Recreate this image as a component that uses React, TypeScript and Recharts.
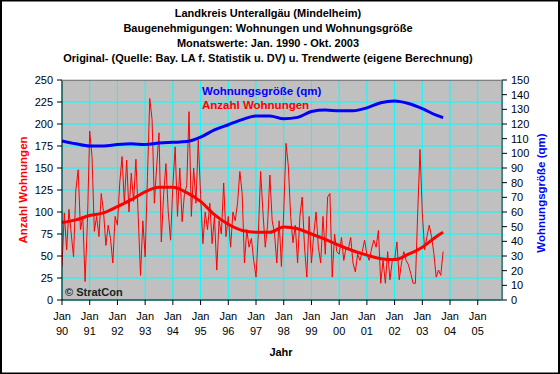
import React from 'react';
import {
  ComposedChart,
  Line,
  XAxis,
  YAxis,
  CartesianGrid,
} from 'recharts';

// Baugenehmigungen: Anzahl Wohnungen per month, Jan 1990 - Okt 2003
const anzahl = [
  38, 99, 57, 103, 75, 49, 125, 148, 80, 95, 21, 88,
  192, 163, 78, 95, 72, 121, 100, 62, 85, 70, 42, 95,
  85, 133, 163, 110, 159, 100, 144, 112, 160, 95, 28, 90,
  49, 140, 229, 205, 110, 152, 190, 66, 120, 155, 100, 68,
  130, 174, 95, 150, 89, 120, 130, 214, 95, 150, 110, 182,
  120, 64, 100, 80, 110, 64, 95, 34, 90, 75, 133, 72,
  95, 60, 100, 90, 110, 146, 121, 42, 80, 60, 70, 45,
  26, 75, 146, 100, 60, 85, 142, 90, 76, 42, 90, 38,
  100, 178, 152, 95, 65, 85, 42, 95, 117, 60, 26, 95,
  42, 75, 100, 60, 42, 95, 52, 117, 121, 26, 75, 55,
  52, 71, 45, 60, 58, 71, 42, 32, 52, 45, 55, 68,
  52, 45, 58, 68, 60, 79, 19, 45, 19, 55, 23, 45,
  45, 66, 23, 42, 55, 45, 40, 30, 19, 19, 99, 171,
  99, 57, 72, 85, 72, 53, 26, 34, 28, 55,
];

// trend values (eigene Berechnung), read every 6 months
const trendMonths = [
  0, 6, 12, 18, 24, 30, 36, 42, 48, 54, 60, 66, 72, 78, 84, 90, 96, 102,
  108, 114, 120, 126, 132, 138, 144, 150, 156, 162, 165,
];
const trendAnzahl = [
  88, 91, 96, 99, 106, 114, 123, 128, 128, 122, 112, 97, 86, 79, 77, 77, 83, 81,
  75, 69, 62, 56, 51, 47, 46, 52, 60, 72, 77,
];
const trendGroesse = [
  108.5, 106.5, 105, 105, 106, 106.5, 106, 107, 107.5, 108, 111, 116, 119.5, 123,
  125.5, 125.5, 123.5, 124.5, 128.5, 129.5, 129, 129, 131, 134.5, 135.7, 134,
  130.5, 126, 124.3,
];

const yearLabels = ['90', '91', '92', '93', '94', '95', '96', '97', '98', '99', '00', '01', '02', '03', '04', '05'];
const leftTicks = [0, 25, 50, 75, 100, 125, 150, 175, 200, 225, 250];
const rightTicks = [0, 10, 20, 30, 40, 50, 60, 70, 80, 90, 100, 110, 120, 130, 140, 150];

const titleLines = [
  'Landkreis Unterallgäu (Mindelheim)',
  'Baugenehmigungen: Wohnungen und Wohnungsgröße',
  'Monatswerte: Jan. 1990 - Okt. 2003',
  'Original- (Quelle: Bay. LA f. Statistik u. DV) u. Trendwerte (eigene Berechnung)',
];

const rawData = anzahl.map((v, i) => ({ m: i, v }));
const trendData = trendMonths.map((m, i) => ({ m, t: trendAnzahl[i] }));
const groesseData = trendMonths.map((m, i) => ({ m, q: trendGroesse[i] }));
const xTicks = yearLabels.map((_, i) => i * 12);

const FONT = '"Liberation Sans", Arial, sans-serif';

const YearTick = (props: any) => {
  const { x, y, payload } = props;
  const label = yearLabels[Math.round(payload.value / 12)];
  return (
    <g>
      <text x={x} y={y + 13} textAnchor="middle" fontSize={11} fill="#000" fontFamily={FONT}>
        Jan
      </text>
      <text x={x} y={y + 28} textAnchor="middle" fontSize={11} fill="#000" fontFamily={FONT}>
        {label}
      </text>
    </g>
  );
};

const App: React.FC = () => {
  return (
    <div style={{ position: 'absolute', left: 0, top: 0, width: 560, height: 374, background: '#fff' }}>
      <ComposedChart
        width={560}
        height={374}
        margin={{ top: 80, right: 18, bottom: 44, left: 22 }}
      >
        <CartesianGrid
          yAxisId="left"
          stroke="#00FFFF"
          strokeWidth={1}
          fill="#C0C0C0"
          fillOpacity={1}
        />
        <XAxis
          type="number"
          dataKey="m"
          domain={[0, 190.5]}
          ticks={xTicks}
          interval={0}
          height={30}
          tickSize={5}
          tickMargin={2}
          stroke="#000"
          tick={<YearTick />}
          allowDataOverflow
        />
        <YAxis
          yAxisId="left"
          domain={[0, 250]}
          ticks={leftTicks}
          interval={0}
          width={40}
          tickSize={5}
          tickMargin={4}
          stroke="#000"
          tick={{ fill: '#000', fontSize: 11, fontFamily: FONT }}
        />
        <YAxis
          yAxisId="right"
          orientation="right"
          domain={[0, 150]}
          ticks={rightTicks}
          interval={0}
          width={40}
          tickSize={5}
          tickMargin={4}
          stroke="#000"
          tick={{ fill: '#000', fontSize: 11, fontFamily: FONT, textAnchor: 'start' }}
        />
        <Line
          yAxisId="left"
          data={rawData}
          dataKey="v"
          type="linear"
          stroke="#FF0000"
          strokeWidth={1}
          dot={false}
          activeDot={false}
          isAnimationActive={false}
        />
        <Line
          yAxisId="left"
          data={trendData}
          dataKey="t"
          type="monotone"
          stroke="#FF0000"
          strokeWidth={3}
          dot={false}
          activeDot={false}
          isAnimationActive={false}
        />
        <Line
          yAxisId="right"
          data={groesseData}
          dataKey="q"
          type="monotone"
          stroke="#0000FF"
          strokeWidth={3}
          dot={false}
          activeDot={false}
          isAnimationActive={false}
        />
      </ComposedChart>
      {/* titles, legend texts and frame */}
      <svg
        width={560}
        height={374}
        style={{ position: 'absolute', left: 0, top: 0, pointerEvents: 'none' }}
        fontFamily={FONT}
      >
        {titleLines.map((t, i) => (
          <text key={i} x={268} y={17 + i * 15} textAnchor="middle" fontSize={11} fontWeight="bold" fill="#000">
            {t}
          </text>
        ))}
        <line x1={62} y1={80.5} x2={502} y2={80.5} stroke="#808080" />
        <line x1={501.5} y1={80} x2={501.5} y2={300} stroke="#808080" />
        <text x={202} y={95} fontSize={11.5} fontWeight="bold" fill="#0000FF">Wohnungsgröße (qm)</text>
        <text x={202} y={109} fontSize={11.5} fontWeight="bold" fill="#FF0000">Anzahl Wohnungen</text>
        <text x={65} y={296} fontSize={11} fontWeight="bold" fill="#202020">© StratCon</text>
        <text
          x={26.5}
          y={190}
          transform="rotate(-90, 26.5, 190)"
          textAnchor="middle"
          fontSize={11.5}
          fontWeight="bold"
          fill="#FF0000"
        >
          Anzahl Wohnungen
        </text>
        <text
          x={545}
          y={193}
          transform="rotate(-90, 545, 193)"
          textAnchor="middle"
          fontSize={11.5}
          fontWeight="bold"
          fill="#0000FF"
        >
          Wohnungsgröße (qm)
        </text>
        <text x={281} y={356} textAnchor="middle" fontSize={11} fontWeight="bold" fill="#000">Jahr</text>
        <rect x={1} y={0.5} width={558} height={373} fill="none" stroke="#000" strokeWidth={2} />
      </svg>
    </div>
  );
};

export default App;
